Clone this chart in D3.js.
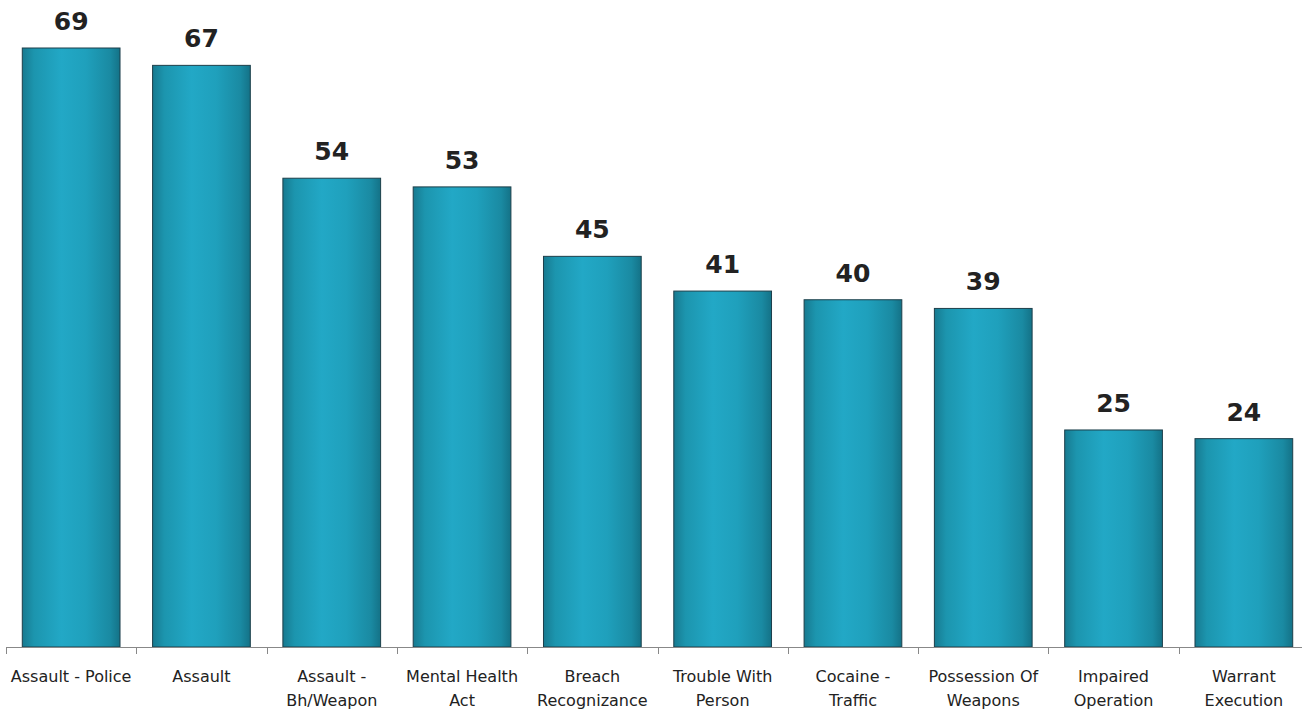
<!DOCTYPE html>
<html><head><meta charset="utf-8">
<script src="https://cdn.jsdelivr.net/npm/d3@7/dist/d3.min.js"></script>
<style>html,body{margin:0;padding:0;background:#fff;}svg{display:block;}</style>
</head><body>
<svg id="chart" width="1302" height="712"></svg>
<script>
const categories = ["Assault - Police","Assault","Assault - Bh/Weapon","Mental Health Act","Breach Recognizance","Trouble With Person","Cocaine - Traffic","Possession Of Weapons","Impaired Operation","Warrant Execution"];
const tickLabels = [["Assault - Police"],["Assault"],["Assault -","Bh/Weapon"],["Mental Health","Act"],["Breach","Recognizance"],["Trouble With","Person"],["Cocaine -","Traffic"],["Possession Of","Weapons"],["Impaired","Operation"],["Warrant","Execution"]];
const values = [69,67,54,53,45,41,40,39,25,24];

const svg = d3.select("#chart");
const baseY = 647;
const x = d3.scaleBand().domain(categories).range([6, 6 + 130.3*10]).paddingInner(0.25).paddingOuter(0.125);
const y = d3.scaleLinear().domain([0, 69]).range([baseY, 48]);

const defs = svg.append("defs");
const g = defs.append("linearGradient").attr("id","barGrad").attr("x1","0").attr("x2","1").attr("y1","0").attr("y2","0");
g.append("stop").attr("offset","0%").attr("stop-color","#177a90");
g.append("stop").attr("offset","12%").attr("stop-color","#1c95ae");
g.append("stop").attr("offset","40%").attr("stop-color","#22a8c6");
g.append("stop").attr("offset","65%").attr("stop-color","#1fa0bc");
g.append("stop").attr("offset","90%").attr("stop-color","#1a8aa2");
g.append("stop").attr("offset","100%").attr("stop-color","#147287");

svg.selectAll("rect.bar").data(values).enter().append("rect")
  .attr("class","bar")
  .attr("x",(d,i)=>x(categories[i]))
  .attr("width",x.bandwidth())
  .attr("y",d=>y(d))
  .attr("height",d=>baseY - y(d))
  .attr("fill","url(#barGrad)")
  .attr("stroke","#1d3f4a").attr("stroke-width",1);

svg.selectAll("text.val").data(values).enter().append("text")
  .attr("class","val")
  .attr("x",(d,i)=>x(categories[i]) + x.bandwidth()/2)
  .attr("y",d=>y(d) - 18)
  .attr("text-anchor","middle")
  .attr("font-family","DejaVu Sans, Verdana, sans-serif")
  .attr("font-weight","bold")
  .attr("font-size",25)
  .attr("fill","#222")
  .text(d=>d);

// axis
const step = x.step();
svg.append("line").attr("x1",6).attr("x2",1302).attr("y1",baseY+0.5).attr("y2",baseY+0.5).attr("stroke","#888").attr("stroke-width",1);
const ticks = d3.range(0, 11).map(i => 6 + i*step);
svg.selectAll("line.tick").data(ticks).enter().append("line")
  .attr("x1",d=>Math.round(d)+0.5).attr("x2",d=>Math.round(d)+0.5)
  .attr("y1",baseY).attr("y2",baseY+7).attr("stroke","#888");

const lbl = svg.selectAll("text.cat").data(tickLabels).enter().append("text")
  .attr("class","cat")
  .attr("x",(d,i)=>x(categories[i]) + x.bandwidth()/2)
  .attr("y",682)
  .attr("text-anchor","middle")
  .attr("font-family","DejaVu Sans, Verdana, sans-serif")
  .attr("font-size",16)
  .attr("fill","#222");
lbl.selectAll("tspan").data(d=>d).enter().append("tspan")
  .attr("x",function(){return this.parentNode.getAttribute("x");})
  .attr("dy",(d,i)=> i===0 ? 0 : 24)
  .text(d=>d);
</script>
</body></html>
